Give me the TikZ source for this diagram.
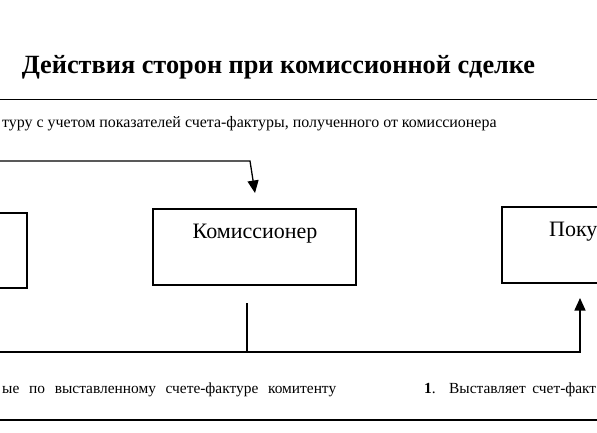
\documentclass[tikz,border=0pt]{standalone}
\usepackage{fontspec}
\setmainfont{Liberation Serif}
\usetikzlibrary{arrows.meta}
\begin{document}
\begin{tikzpicture}[x=1pt,y=-1pt,
  rule/.style={line width=1.4pt},
  conn/.style={line width=1.3pt},
  tip/.style={-{Triangle[length=12.5pt,width=11pt]}},
  box/.style={draw,line width=1.3pt,rectangle,inner sep=0pt},
  boxlabel/.style={font=\fontsize{22}{24}\selectfont,inner sep=0pt},
  body/.style={font=\fontsize{15.95}{18}\selectfont,inner sep=0pt},
  bodyb/.style={font=\fontsize{15.4}{17}\selectfont,inner sep=0pt}]
\useasboundingbox (0,0) rectangle (597,433);
\fill[white] (0,0) rectangle (597,433);
% title
\node[font=\bfseries\fontsize{26.3}{30}\selectfont,inner sep=0pt,anchor=base] (title) at (278.5,74) {Действия сторон при комиссионной сделке};
\coordinate (r1a) at (0,99.5);
\coordinate (r1b) at (597,99.5);
\draw[rule] (r1a) -- (r1b);
\coordinate (r2a) at (0,420);
\coordinate (r2b) at (597,420);
\draw[rule] (r2a) -- (r2b);
% top text
\node[body,anchor=base west] (t2) at (2,128) {туру с учетом показателей счета-фактуры, полученного от комиссионера};
% boxes
\node[box,minimum width=180pt,minimum height=75pt] (komitent) at (-63,250.5) {};
\node[box,minimum width=203pt,minimum height=76pt] (kom) at (254.5,247) {};
\node[boxlabel,anchor=base] (komlbl) at (255,238) {Комиссионер};
\node[box,minimum width=200pt,minimum height=76pt] (pok) at (602,245) {};
\node[boxlabel,anchor=base west] (poklbl) at (549,236) {Поку};
% top arrow
\coordinate (a1) at (0,161);
\coordinate (a2) at (250,161);
\coordinate (a3) at (255,193);
\draw[conn,tip] (a1) -- (a2) -- (a3);
% bottom connector
\coordinate (b1) at (247,303);
\coordinate (b2) at (247,352);
\coordinate (b0) at (0,352);
\coordinate (b3) at (580,352);
\coordinate (b4) at (580,298);
\draw[conn] (b1) -- (b2);
\draw[conn] (b0) -- (b2);
\draw[conn,tip] (b2) -- (b3) -- (b4);
% bottom text
\node[bodyb,anchor=base west] (t3) at (2,393) {\makebox[334pt][s]{ые по выставленному счете-фактуре комитенту}};
\node[bodyb,anchor=base west] (t1) at (424,393) {\makebox[172pt][s]{\textbf{1}. Выставляет счет-факт}};
\end{tikzpicture}
\end{document}
